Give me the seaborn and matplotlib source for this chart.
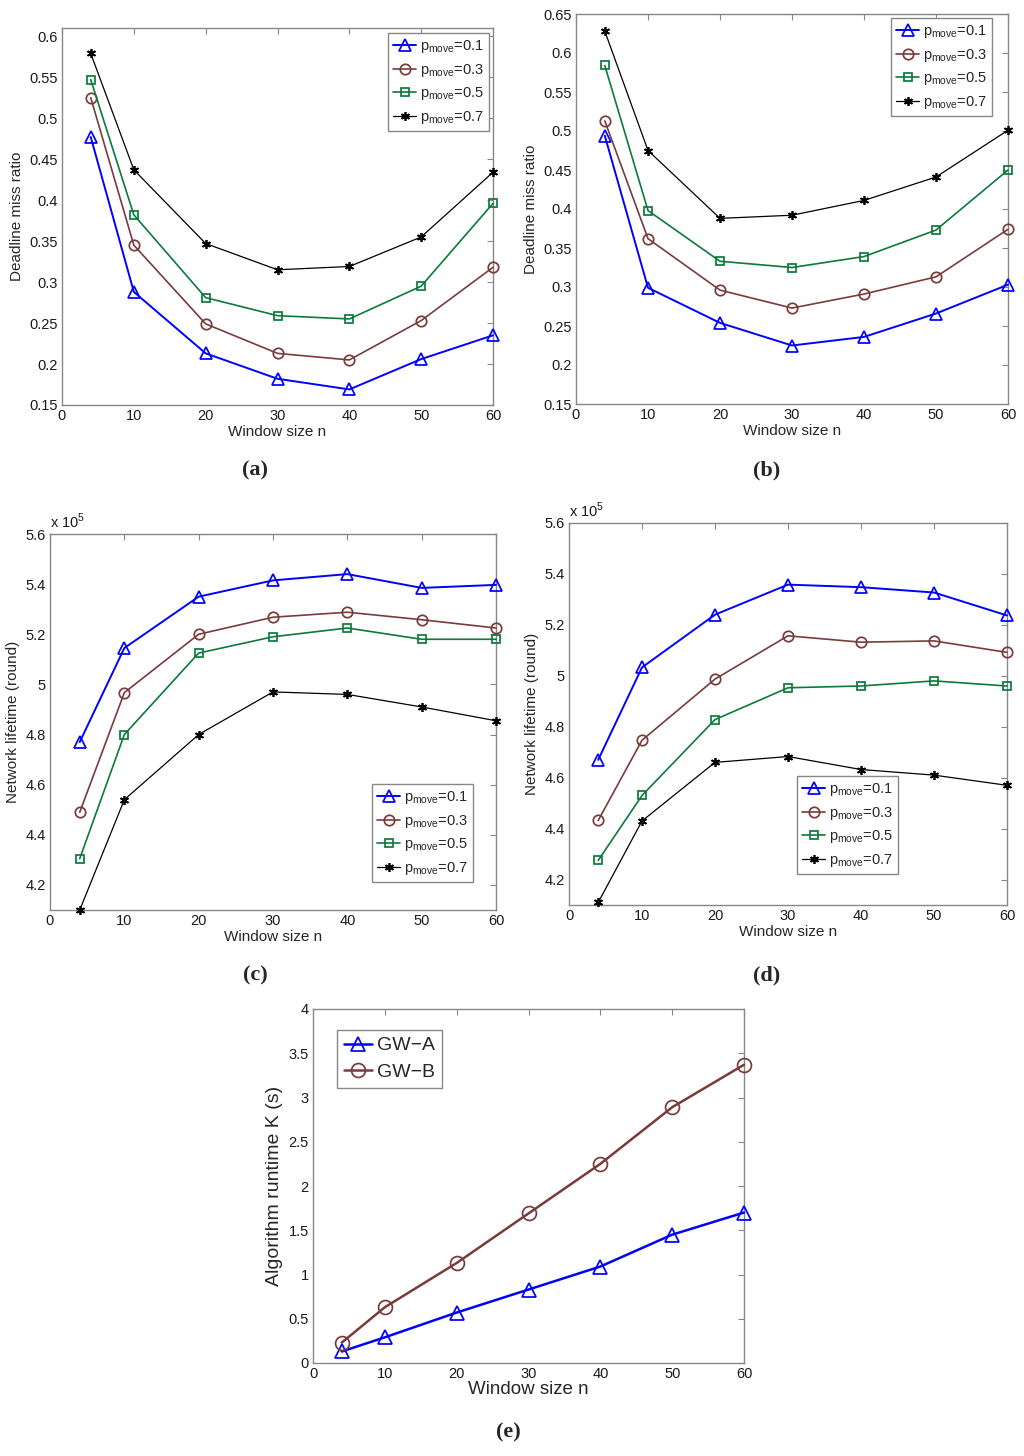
import numpy as np
import pandas as pd
import matplotlib
matplotlib.use("Agg")
import matplotlib.pyplot as plt
from matplotlib.ticker import FuncFormatter
import seaborn as sns

sns.set_theme(style="white")
plt.rcParams['font.family'] = ['Liberation Sans', 'DejaVu Sans']
plt.rcParams['mathtext.fontset'] = 'custom'
plt.rcParams['mathtext.rm'] = 'Liberation Sans'

# window sizes
window_n = [4, 10, 20, 30, 40, 50, 60]
p_labels = [r'$\mathregular{p_{move}}$=0.1', r'$\mathregular{p_{move}}$=0.3',
            r'$\mathregular{p_{move}}$=0.5', r'$\mathregular{p_{move}}$=0.7']

# (a) deadline miss ratio
miss_a_01 = [0.477, 0.288, 0.213, 0.182, 0.169, 0.206, 0.235]
miss_a_03 = [0.525, 0.345, 0.249, 0.213, 0.205, 0.253, 0.318]
miss_a_05 = [0.547, 0.382, 0.281, 0.259, 0.255, 0.295, 0.396]
miss_a_07 = [0.579, 0.437, 0.347, 0.315, 0.319, 0.355, 0.434]

# (b) deadline miss ratio
miss_b_01 = [0.494, 0.299, 0.254, 0.225, 0.236, 0.266, 0.303]
miss_b_03 = [0.513, 0.362, 0.296, 0.273, 0.291, 0.313, 0.374]
miss_b_05 = [0.584, 0.398, 0.333, 0.325, 0.339, 0.373, 0.450]
miss_b_07 = [0.628, 0.475, 0.388, 0.392, 0.411, 0.441, 0.501]

# (c) network lifetime, x 10^5 rounds
life_c_01 = [4.770, 5.145, 5.350, 5.415, 5.440, 5.385, 5.397]
life_c_03 = [4.490, 4.967, 5.200, 5.268, 5.288, 5.258, 5.225]
life_c_05 = [4.305, 4.800, 5.125, 5.190, 5.225, 5.180, 5.180]
life_c_07 = [4.100, 4.540, 4.800, 4.970, 4.960, 4.910, 4.855]

# (d) network lifetime, x 10^5 rounds
life_d_01 = [4.670, 5.033, 5.240, 5.358, 5.348, 5.327, 5.237]
life_d_03 = [4.432, 4.747, 4.987, 5.157, 5.132, 5.137, 5.092]
life_d_05 = [4.275, 4.530, 4.828, 4.953, 4.960, 4.980, 4.960]
life_d_07 = [4.110, 4.430, 4.660, 4.683, 4.632, 4.610, 4.570]

# (e) algorithm runtime
runtime_gwa = [0.13, 0.29, 0.57, 0.83, 1.09, 1.45, 1.70]
runtime_gwb = [0.23, 0.63, 1.13, 1.69, 2.25, 2.89, 3.37]
gw_labels = ['GW\u2212A', 'GW\u2212B']

BLUE = '#0000ff'
BROWN = '#7a3b3b'
GREEN = '#0b7a3a'
BLACK = '#000000'
# color, marker, markersize, linewidth
styles = [(BLUE, '^', 8, 1.4), (BROWN, 'o', 7.5, 1.2), (GREEN, 's', 6, 1.2), (BLACK, (6, 2, 0), 6.5, 0.9)]

W, H = 1024, 1456
fig = plt.figure(figsize=(W / 100, H / 100), dpi=100)


def px_axes(x0, x1, y0, y1):
    return fig.add_axes([x0 / W, 1 - y1 / H, (x1 - x0) / W, (y1 - y0) / H])


def fmt_g(v, pos):
    return '%g' % round(v, 4)


def style_axes(ax, ylim, yticks, fs=10.5):
    ax.set_xlim(0, 60)
    ax.set_ylim(*ylim)
    ax.set_xticks([0, 10, 20, 30, 40, 50, 60])
    ax.set_yticks(yticks)
    ax.yaxis.set_major_formatter(FuncFormatter(fmt_g))
    ax.tick_params(direction='in', length=4, width=0.8, top=True, right=True,
                   labelsize=fs, colors='#888888', labelcolor='#1a1a1a', pad=3)
    for s in ax.spines.values():
        s.set_color('#888888')
        s.set_linewidth(1.0)
    ax.set_facecolor('white')


def draw_series(ax, series, labels, sty):
    for vals, lab, (c, m, ms, lw) in zip(series, labels, sty):
        df = pd.DataFrame({'n': window_n, 'v': vals})
        sns.lineplot(data=df, x='n', y='v', ax=ax, color=c, marker=m, ms=ms,
                     mfc='none', mec=c, mew=1.25, lw=lw, label=lab, legend=False,
                     clip_on=False, zorder=3)


def add_legend(ax, xpx, ypx, fs=10.5, spacing=0.45, hl=1.6):
    leg = ax.legend(loc='upper left', bbox_to_anchor=(xpx / W, 1 - ypx / H),
                    bbox_transform=fig.transFigure, fontsize=fs, frameon=True,
                    fancybox=False, framealpha=1, edgecolor='#888888',
                    handlelength=hl, handletextpad=0.25, labelspacing=spacing,
                    borderpad=0.35, borderaxespad=0)
    leg.get_frame().set_linewidth(1.0)
    leg.set_zorder(5)
    return leg


# (a)
ax_a = px_axes(62, 493, 28, 405)
draw_series(ax_a, [miss_a_01, miss_a_03, miss_a_05, miss_a_07], p_labels, styles)
style_axes(ax_a, (0.15, 0.61), np.arange(0.15, 0.601, 0.05))
ax_a.set_xlabel('Window size n', fontsize=11, labelpad=1)
ax_a.set_ylabel('Deadline miss ratio', fontsize=11, labelpad=4)
add_legend(ax_a, 388, 33)

# (b)
ax_b = px_axes(576, 1008, 14, 404)
draw_series(ax_b, [miss_b_01, miss_b_03, miss_b_05, miss_b_07], p_labels, styles)
style_axes(ax_b, (0.15, 0.65), np.arange(0.15, 0.651, 0.05))
ax_b.set_xlabel('Window size n', fontsize=11, labelpad=1)
ax_b.set_ylabel('Deadline miss ratio', fontsize=11, labelpad=4)
add_legend(ax_b, 891, 18)

# (c)
ax_c = px_axes(50, 496, 534, 910)
draw_series(ax_c, [life_c_01, life_c_03, life_c_05, life_c_07], p_labels, styles)
style_axes(ax_c, (4.1, 5.6), np.arange(4.2, 5.601, 0.2))
ax_c.set_xlabel('Window size n', fontsize=11, labelpad=1)
ax_c.set_ylabel('Network lifetime (round)', fontsize=11, labelpad=4)
fig.text(50 / W, 1 - 531 / H, r'x 10$^{5}$', fontsize=10.5, color='#1a1a1a', va='bottom', ha='left')
add_legend(ax_c, 372, 784)

# (d)
ax_d = px_axes(569, 1007, 523, 905)
draw_series(ax_d, [life_d_01, life_d_03, life_d_05, life_d_07], p_labels, styles)
style_axes(ax_d, (4.1, 5.6), np.arange(4.2, 5.601, 0.2))
ax_d.set_xlabel('Window size n', fontsize=11, labelpad=1)
ax_d.set_ylabel('Network lifetime (round)', fontsize=11, labelpad=4)
fig.text(569 / W, 1 - 520 / H, r'x 10$^{5}$', fontsize=10.5, color='#1a1a1a', va='bottom', ha='left')
add_legend(ax_d, 797, 776)

# (e)
ax_e = px_axes(313, 744, 1009, 1363)
styles_e = [(BLUE, '^', 10.5, 1.8), (BROWN, 'o', 10, 1.8)]
draw_series(ax_e, [runtime_gwa, runtime_gwb], gw_labels, styles_e)
style_axes(ax_e, (0, 4), np.arange(0, 4.01, 0.5), fs=10.5)
ax_e.set_xlabel('Window size n', fontsize=13.5, labelpad=0)
ax_e.set_ylabel('Algorithm runtime K (s)', fontsize=14, labelpad=4)
add_legend(ax_e, 337, 1030, fs=14, spacing=0.45, hl=1.45)

# panel labels
for lab, xp, yp in [('(a)', 255, 470), ('(b)', 767, 470), ('(c)', 255, 975),
                    ('(d)', 767, 975), ('(e)', 508, 1432)]:
    fig.text(xp / W, 1 - yp / H, lab, fontsize=16, fontweight='bold',
             family=['Liberation Serif', 'DejaVu Serif'], ha='center', va='center')

fig.savefig('out.png', dpi=100, facecolor='white')
